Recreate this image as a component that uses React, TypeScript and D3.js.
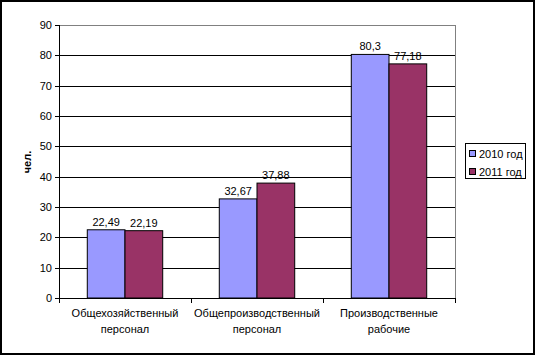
import React from "react";
import * as d3 from "d3";

const categories: string[][] = [
  ["Общехозяйственный", "персонал"],
  ["Общепроизводственный", "персонал"],
  ["Производственные", "рабочие"],
];
const seriesNames = ["2010 год", "2011 год"];
const values2010 = [22.49, 32.67, 80.3];
const values2011 = [22.19, 37.88, 77.18];
const yTicks = [0, 10, 20, 30, 40, 50, 60, 70, 80, 90];
const colors = ["#9999FF", "#993366"];

const W = 537;
const H = 356;
const plot = { left: 59, right: 455, top: 25, bottom: 298 };
const font = "Liberation Sans, Arial, sans-serif";

export default function App() {
  const x = d3
    .scaleBand<number>()
    .domain(d3.range(categories.length))
    .range([plot.left, plot.right]);
  const y = d3.scaleLinear().domain([0, 90]).range([plot.bottom, plot.top]);
  const step = x.bandwidth();
  const barW = step / 3.5;
  const gap = (step - 2 * barW) / 2;
  const series = [values2010, values2011];
  const fmt = (v: number) => String(v).replace(".", ",");

  return (
    <svg
      width={W}
      height={H}
      style={{ position: "absolute", left: 0, top: 0, background: "#fff" }}
      fontFamily={font}
    >
      <rect x={0} y={0} width={W} height={H} fill="#fff" />
      <rect x={1} y={1} width={533} height={353} fill="none" stroke="#000" strokeWidth={2} />
      {/* gridlines */}
      {yTicks.map((t) => (
        <line
          key={t}
          x1={plot.left}
          x2={plot.right}
          y1={Math.round(y(t)) + 0.5}
          y2={Math.round(y(t)) + 0.5}
          stroke={t === 90 ? "#808080" : "#000"}
          strokeWidth={1}
        />
      ))}
      <line
        x1={plot.right + 0.5}
        x2={plot.right + 0.5}
        y1={plot.top}
        y2={plot.bottom}
        stroke="#808080"
      />
      {/* bars */}
      {series.map((vals, si) =>
        vals.map((v, ci) => {
          const bx = (x(ci) as number) + gap + si * barW;
          const by = y(v);
          return (
            <g key={`${si}-${ci}`}>
              <rect
                x={bx}
                y={by}
                width={barW}
                height={plot.bottom - by}
                fill={colors[si]}
                stroke="#000"
                strokeWidth={1}
              />
              <text
                x={bx + barW / 2}
                y={by - 4}
                textAnchor="middle"
                fontSize={11}
                fill="#000"
              >
                {fmt(v)}
              </text>
            </g>
          );
        })
      )}
      {/* axes */}
      <line x1={plot.left + 0.5} x2={plot.left + 0.5} y1={plot.top} y2={plot.bottom + 0.5} stroke="#000" />
      <line x1={plot.left} x2={plot.right + 0.5} y1={plot.bottom + 0.5} y2={plot.bottom + 0.5} stroke="#000" />
      {yTicks.map((t) => (
        <g key={"yt" + t}>
          <line
            x1={plot.left - 4}
            x2={plot.left}
            y1={Math.round(y(t)) + 0.5}
            y2={Math.round(y(t)) + 0.5}
            stroke="#000"
          />
          <text x={plot.left - 7} y={y(t) + 4} textAnchor="end" fontSize={11} fill="#000">
            {t}
          </text>
        </g>
      ))}
      {d3.range(categories.length + 1).map((i) => {
        const xx = Math.round(plot.left + i * step) + 0.5;
        return (
          <line key={"xt" + i} x1={xx} x2={xx} y1={plot.bottom} y2={plot.bottom + 5} stroke="#000" />
        );
      })}
      {categories.map((lines, ci) => (
        <text
          key={"c" + ci}
          x={(x(ci) as number) + step / 2}
          y={317}
          textAnchor="middle"
          fontSize={11}
          fill="#000"
        >
          {lines.map((l, li) => (
            <tspan key={li} x={(x(ci) as number) + step / 2} dy={li === 0 ? 0 : 16}>
              {l}
            </tspan>
          ))}
        </text>
      ))}
      <text
        transform={`translate(31,162) rotate(-90)`}
        textAnchor="middle"
        fontSize={11}
        fontWeight="bold"
        fill="#000"
      >
        чел.
      </text>
      {/* legend */}
      <rect x={465.5} y={143.5} width={60} height={35} fill="#fff" stroke="#000" />
      {seriesNames.map((n, i) => (
        <g key={n}>
          <rect x={469.5} y={150.5 + i * 18} width={6} height={6} fill={colors[i]} stroke="#000" />
          <text x={479} y={158 + i * 18} fontSize={11} fill="#000">
            {n}
          </text>
        </g>
      ))}
    </svg>
  );
}
